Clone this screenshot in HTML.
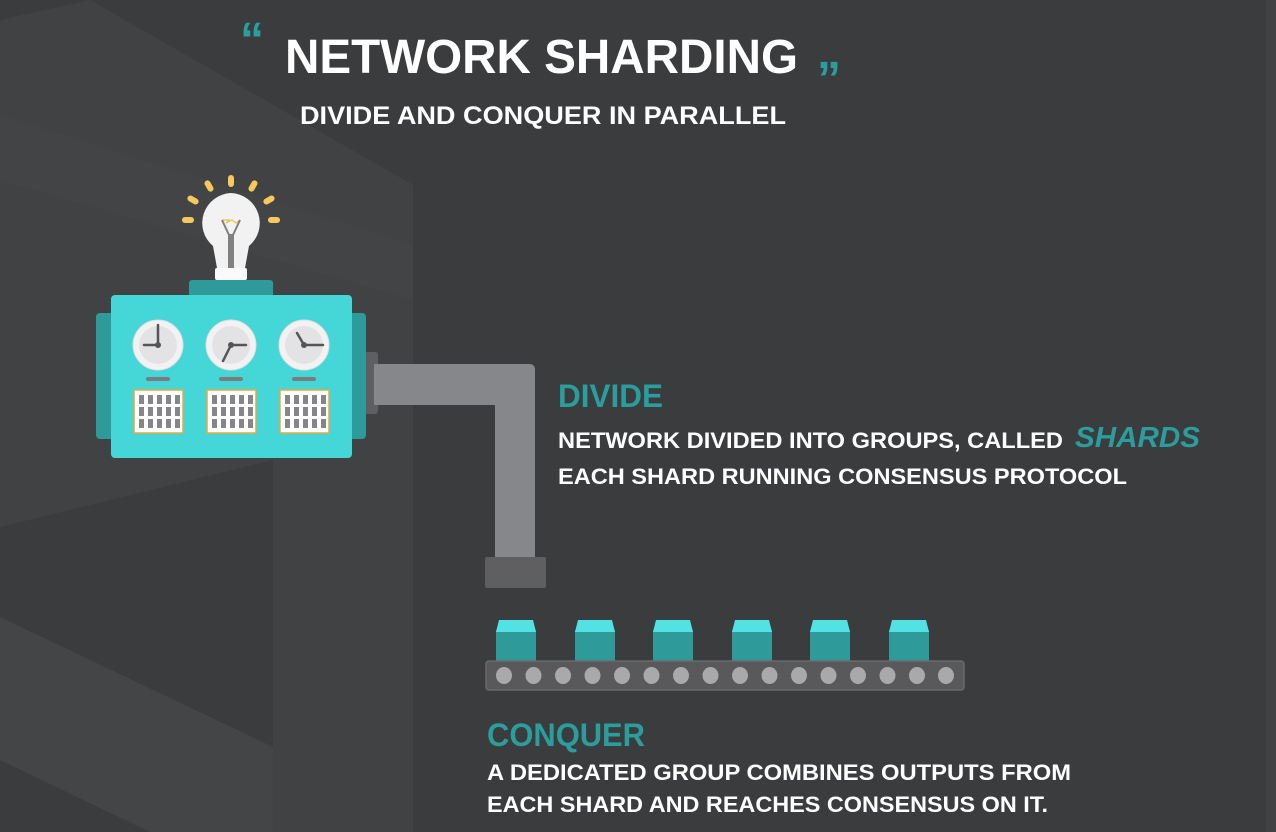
<!DOCTYPE html>
<html><head><meta charset="utf-8"><style>
html,body{margin:0;padding:0;background:#3a3b3d;}
svg{display:block}
text{font-family:"Liberation Sans",sans-serif;font-weight:bold;}
</style></head><body>
<svg width="1276" height="832" viewBox="0 0 1276 832" xmlns="http://www.w3.org/2000/svg">
<rect width="1276" height="832" fill="#3b3c3e"/>
<!-- background panels -->
<polygon points="0,20 90,0 413,185 413,832 273,832 273,460 0,527" fill="#414244"/>
<polygon points="0,115 413,245 413,300 0,180" fill="#444547" opacity="0.5"/>
<polygon points="0,617 273,747 273,832 150,832 0,760" fill="#444547"/>
<rect x="1266" y="0" width="10" height="832" fill="#414244"/>

<!-- title -->
<text x="240" y="56" font-size="48" fill="#2a9d9c">&#8220;</text>
<text x="285" y="73" font-size="48" fill="#fff" textLength="513" lengthAdjust="spacingAndGlyphs">NETWORK SHARDING</text>
<text x="817" y="68" font-size="48" fill="#2a9d9c">&#8222;</text>
<text x="300" y="124" font-size="25" fill="#fff" textLength="486" lengthAdjust="spacingAndGlyphs">DIVIDE AND CONQUER IN PARALLEL</text>

<!-- pipe -->
<rect x="364" y="352" width="14" height="62" rx="3" fill="#5e5f61"/>
<path d="M374 364 H530 a5 5 0 0 1 5 5 V557 H495 V405 H374 Z" fill="#86878b"/>
<rect x="485" y="557" width="61" height="31" rx="2" fill="#5f5f61"/>

<!-- machine -->
<rect x="189" y="280" width="84" height="20" rx="3" fill="#2e9a99"/>
<rect x="96" y="313" width="270" height="126" rx="4" fill="#2e9a99"/>
<rect x="111" y="295" width="241" height="163" rx="4" fill="#45d6d7"/>
<!-- bulb -->
<g fill="#f8c85a">
<rect x="228" y="175" width="6" height="12" rx="3"/>
<rect x="206" y="180" width="6" height="12" rx="3" transform="rotate(-30 209 186)"/>
<rect x="250" y="180" width="6" height="12" rx="3" transform="rotate(30 253 186)"/>
<rect x="190" y="194" width="6" height="12" rx="3" transform="rotate(-60 193 200)"/>
<rect x="266" y="194" width="6" height="12" rx="3" transform="rotate(60 269 200)"/>
<rect x="182" y="217" width="12" height="6" rx="3"/>
<rect x="268" y="217" width="12" height="6" rx="3"/>
</g>
<path d="M231 193 a30 30 0 0 1 18 53 l-4 22 h-28 l-4 -22 a30 30 0 0 1 18 -53 z" fill="#f2f2f2"/>
<rect x="215" y="268" width="32" height="12" rx="2" fill="#fafafa"/>
<polyline points="222,220 229,220 226,223 232,220 236,223 240,220" fill="none" stroke="#f3c04a" stroke-width="1.2"/>
<path d="M222 220 L229 235 L229 268 M240 220 L233 235 L233 268" stroke="#808080" stroke-width="2" fill="none"/>
<rect x="228" y="234" width="6" height="34" fill="#808080"/>
<!-- clocks -->
<g>
<circle cx="158" cy="345" r="25" fill="#f2f2f2" stroke="#ddd"/><circle cx="158" cy="345" r="19" fill="#e3e3e5"/>
<path d="M158 345 V325 M158 345 H144" stroke="#555" stroke-width="2.5" stroke-linecap="round"/><circle cx="158" cy="345" r="3" fill="#555"/>
<circle cx="231" cy="345" r="25" fill="#f2f2f2" stroke="#ddd"/><circle cx="231" cy="345" r="19" fill="#e3e3e5"/>
<path d="M231 345 L223 361 M231 345 H246" stroke="#555" stroke-width="2.5" stroke-linecap="round"/><circle cx="231" cy="345" r="3" fill="#555"/>
<circle cx="304" cy="345" r="25" fill="#f2f2f2" stroke="#ddd"/><circle cx="304" cy="345" r="19" fill="#e3e3e5"/>
<path d="M304 345 L297 333 M304 345 H323" stroke="#555" stroke-width="2.5" stroke-linecap="round"/><circle cx="304" cy="345" r="3" fill="#555"/>
</g>
<g fill="#7c7c80">
<rect x="146" y="377" width="24" height="4" rx="2"/><rect x="219" y="377" width="24" height="4" rx="2"/><rect x="292" y="377" width="24" height="4" rx="2"/>
</g>
<g id="grid">
<rect x="134" y="390" width="49" height="43" fill="#fff" stroke="#e8a93a" stroke-width="1.5"/>
<g fill="#85858a">
<rect x="139" y="395" width="5" height="9"/><rect x="148" y="395" width="5" height="9"/><rect x="157" y="395" width="5" height="9"/><rect x="166" y="395" width="5" height="9"/><rect x="175" y="395" width="5" height="9"/>
<rect x="139" y="407" width="5" height="9"/><rect x="148" y="407" width="5" height="9"/><rect x="157" y="407" width="5" height="9"/><rect x="166" y="407" width="5" height="9"/><rect x="175" y="407" width="5" height="9"/>
<rect x="139" y="419" width="5" height="9"/><rect x="148" y="419" width="5" height="9"/><rect x="157" y="419" width="5" height="9"/><rect x="166" y="419" width="5" height="9"/><rect x="175" y="419" width="5" height="9"/>
</g>
</g>
<use href="#grid" x="73"/>
<use href="#grid" x="146"/>

<!-- boxes -->
<g id="box">
<rect x="496" y="630" width="40" height="32" fill="#2e9a99"/>
<polygon points="499,620 533,620 536,632 496,632" fill="#52e2e4"/>
</g>
<use href="#box" x="79"/><use href="#box" x="157"/><use href="#box" x="236"/><use href="#box" x="314"/><use href="#box" x="393"/>

<!-- conveyor -->
<rect x="486" y="661" width="478" height="29" rx="3" fill="#59595b" stroke="#6a6a6c" stroke-width="1.5"/>
<g fill="#a9a9ab">
<ellipse cx="504" cy="675.5" rx="8" ry="8.5"/><ellipse cx="533.5" cy="675.5" rx="8" ry="8.5"/><ellipse cx="563" cy="675.5" rx="8" ry="8.5"/><ellipse cx="592.5" cy="675.5" rx="8" ry="8.5"/>
<ellipse cx="622" cy="675.5" rx="8" ry="8.5"/><ellipse cx="651.5" cy="675.5" rx="8" ry="8.5"/><ellipse cx="681" cy="675.5" rx="8" ry="8.5"/><ellipse cx="710.5" cy="675.5" rx="8" ry="8.5"/>
<ellipse cx="740" cy="675.5" rx="8" ry="8.5"/><ellipse cx="769.5" cy="675.5" rx="8" ry="8.5"/><ellipse cx="799" cy="675.5" rx="8" ry="8.5"/><ellipse cx="828.5" cy="675.5" rx="8" ry="8.5"/>
<ellipse cx="858" cy="675.5" rx="8" ry="8.5"/><ellipse cx="887.5" cy="675.5" rx="8" ry="8.5"/><ellipse cx="917" cy="675.5" rx="8" ry="8.5"/><ellipse cx="946" cy="675.5" rx="8" ry="8.5"/>
</g>

<!-- texts -->
<text x="558" y="407" font-size="32" fill="#2a9d9c" textLength="105" lengthAdjust="spacingAndGlyphs">DIVIDE</text>
<text x="558" y="448" font-size="22" fill="#fff" textLength="505" lengthAdjust="spacingAndGlyphs">NETWORK DIVIDED INTO GROUPS, CALLED</text>
<text x="1075" y="447" font-size="29" fill="#2a9d9c" font-style="italic" textLength="125" lengthAdjust="spacingAndGlyphs">SHARDS</text>
<text x="558" y="484" font-size="22" fill="#fff" textLength="569" lengthAdjust="spacingAndGlyphs">EACH SHARD RUNNING CONSENSUS PROTOCOL</text>
<text x="487" y="746" font-size="32" fill="#2a9d9c" textLength="158" lengthAdjust="spacingAndGlyphs">CONQUER</text>
<text x="487" y="780" font-size="22" fill="#fff" textLength="584" lengthAdjust="spacingAndGlyphs">A DEDICATED GROUP COMBINES OUTPUTS FROM</text>
<text x="487" y="812" font-size="22" fill="#fff" textLength="561" lengthAdjust="spacingAndGlyphs">EACH SHARD AND REACHES CONSENSUS ON IT.</text>
</svg>
</body></html>
